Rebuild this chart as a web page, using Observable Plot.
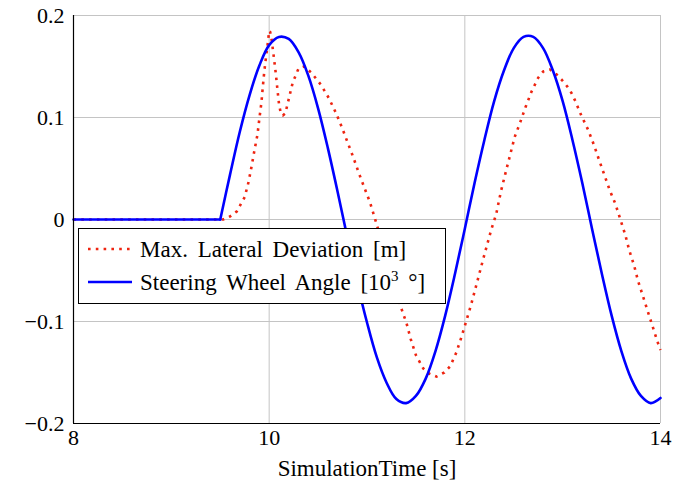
<!DOCTYPE html>
<html>
<head>
<meta charset="utf-8">
<script src="https://cdn.jsdelivr.net/npm/d3@7"></script>
<script src="https://cdn.jsdelivr.net/npm/@observablehq/plot@0.6"></script>
<style>
  html, body { margin: 0; padding: 0; background: #fff; }
</style>
</head>
<body>
<div id="wrap"></div>
<script>
// Simulation time axis
const xDomain = [8, 14];
const yDomain = [-0.2, 0.2];
const xTicks = [8, 10, 12, 14];
const yTicks = [-0.2, -0.1, 0, 0.1, 0.2];
const xLabel = "SimulationTime [s]";
const seriesNames = ["Max. Lateral Deviation [m]", "Steering Wheel Angle [10", "3", " °]"];

// Max. Lateral Deviation [m]
const latT = [8, 9.53, 9.6, 9.67, 9.75, 9.79, 9.82, 9.85, 9.88, 9.9, 9.92, 9.935, 9.95, 9.97, 9.99, 10.0, 10.01,
  10.027, 10.048, 10.068, 10.085, 10.102, 10.12, 10.14, 10.165, 10.2, 10.24, 10.3, 10.36, 10.43, 10.53, 10.61,
  10.68, 10.745, 10.8, 10.86, 10.915, 10.97, 11.03, 11.1, 11.23, 11.354, 11.405, 11.446, 11.5, 11.575, 11.633,
  11.71, 11.79, 11.85, 11.915, 11.966, 12.01, 12.06, 12.11, 12.19, 12.27, 12.32, 12.37, 12.43, 12.47, 12.51,
  12.565, 12.62, 12.68, 12.75, 12.8, 12.87, 12.94, 13.0, 13.05, 13.09, 13.13, 13.19, 13.26, 13.32, 13.37, 13.425,
  13.48, 13.54, 13.59, 13.64, 13.68, 13.73, 13.77, 13.82, 13.87, 13.92, 13.97, 14.0];
const latV = [0, 0, 0.003, 0.008, 0.022, 0.037, 0.052, 0.068, 0.083, 0.099, 0.114, 0.13, 0.145, 0.161, 0.176, 0.185, 0.184,
  0.175, 0.159, 0.143, 0.127, 0.112, 0.104, 0.102, 0.104, 0.118, 0.134, 0.148, 0.15, 0.144, 0.132, 0.119,
  0.105, 0.09, 0.076, 0.061, 0.046, 0.032, 0.017, -0.005, -0.047, -0.088, -0.102, -0.117, -0.133, -0.146, -0.151,
  -0.154, -0.15, -0.144, -0.13, -0.115, -0.101, -0.085, -0.067, -0.038, -0.01, 0.005, 0.028, 0.051, 0.066, 0.081,
  0.095, 0.11, 0.125, 0.139, 0.145, 0.147, 0.142, 0.136, 0.13, 0.124, 0.116, 0.102, 0.088, 0.073, 0.059, 0.044,
  0.029, 0.015, 0.0, -0.015, -0.03, -0.045, -0.06, -0.075, -0.09, -0.105, -0.12, -0.128];

// Steering Wheel Angle [10^3 deg]: flat part, then the sweep
const steerFlatT = [8, 9.5];
const steerFlatV = [0, 0];
const steerT = [9.5, 9.6, 9.7, 9.8, 9.9, 10.0, 10.1, 10.2, 10.3, 10.4, 10.5, 10.6, 10.7, 10.8, 10.9, 11.0,
  11.1, 11.2, 11.3, 11.4, 11.5, 11.6, 11.7, 11.8, 11.9, 12.0, 12.1, 12.2, 12.3, 12.4, 12.5, 12.6, 12.7, 12.8,
  12.9, 13.0, 13.1, 13.2, 13.3, 13.4, 13.5, 13.6, 13.7, 13.8, 13.9, 14.0];
const steerV = [0, 0.044, 0.086, 0.122, 0.151, 0.171, 0.179, 0.177, 0.164, 0.141, 0.109, 0.07, 0.027, -0.018, -0.062, -0.101,
  -0.135, -0.16, -0.176, -0.18, -0.173, -0.156, -0.129, -0.094, -0.053, -0.009, 0.036, 0.078, 0.116, 0.146, 0.168, 0.179, 0.179, 0.168,
  0.146, 0.116, 0.078, 0.036, -0.009, -0.053, -0.094, -0.129, -0.156, -0.173, -0.18, -0.175];

const lat = latT.map((t, i) => ({t, v: latV[i]}));
const steerFlat = steerFlatT.map((t, i) => ({t, v: steerFlatV[i]}));
const steer = steerT.map((t, i) => ({t, v: steerV[i]}));

const RED = "#ee2410";
const BLUE = "#0000ff";
const FONT = "Times";

const chart = Plot.plot({
  width: 690,
  height: 485,
  marginLeft: 73,
  marginRight: 30,
  marginTop: 15,
  marginBottom: 62,
  style: {fontFamily: FONT, fontSize: "22px", color: "#000", background: "#fff"},
  x: {domain: xDomain, label: null},
  y: {domain: yDomain, label: null},
  marks: [
    Plot.gridX(xTicks.slice(1), {stroke: "#c4c4c4", strokeOpacity: 1}),
    Plot.gridY(yTicks.slice(1), {stroke: "#c4c4c4", strokeOpacity: 1}),
    Plot.axisY(yTicks, {tickSize: 0, tickPadding: 9, fontFamily: FONT, tickFormat: d => d === 0 ? "0" : d3.format(".1f")(d).replace("-", "\u2212"), fill: "#000"}),
    Plot.axisX(xTicks, {tickSize: 0, tickPadding: 6, fontFamily: FONT, fill: "#000", label: xLabel, labelAnchor: "center", labelOffset: 52, labelArrow: "none"}),
    Plot.line(lat, {x: "t", y: "v", stroke: RED, strokeWidth: 2.6, strokeDasharray: "2.6,5.2", strokeLinecap: "butt", curve: "linear"}),
    Plot.line(steerFlat, {x: "t", y: "v", stroke: BLUE, strokeWidth: 2.6}),
    Plot.line(steer, {x: "t", y: "v", stroke: BLUE, strokeWidth: 2.6, curve: "catmull-rom"}),
    Plot.ruleX([xDomain[0]], {stroke: "#000", strokeWidth: 1.2}),
    Plot.ruleY([yDomain[0]], {stroke: "#000", strokeWidth: 1.2})
  ]
});

const svg = d3.select(chart);
// slightly larger axis title
svg.selectAll("text").filter(function() { return this.textContent === xLabel; }).attr("font-size", 23);

// legend box drawn inside the chart's SVG
const lg = svg.append("g").attr("transform", "translate(78.5,228.5)").attr("text-anchor", "start").attr("font-family", FONT);
lg.append("rect").attr("width", 367).attr("height", 75).attr("fill", "#fff").attr("stroke", "#000").attr("stroke-width", 1);
const rows = [
  {y: 20.5, stroke: RED, dash: "2.6,5.2"},
  {y: 53.5, stroke: BLUE, dash: null}
];
rows.forEach(r => {
  lg.append("line").attr("x1", 9.5).attr("x2", 53.5).attr("y1", r.y).attr("y2", r.y)
    .attr("stroke", r.stroke).attr("stroke-width", 2.6).attr("stroke-dasharray", r.dash);
});
lg.append("text").attr("x", 61.5).attr("y", rows[0].y).attr("dy", "0.33em").attr("text-anchor", "start")
  .attr("font-family", FONT).attr("font-size", 23).attr("word-spacing", 4).attr("fill", "#000").text(seriesNames[0]);
const t2 = lg.append("text").attr("x", 61.5).attr("y", rows[1].y).attr("dy", "0.33em").attr("text-anchor", "start")
  .attr("font-family", FONT).attr("font-size", 23).attr("word-spacing", 4).attr("fill", "#000");
t2.append("tspan").text(seriesNames[1]);
t2.append("tspan").attr("font-size", 15).attr("dy", -9).text(seriesNames[2]);
t2.append("tspan").attr("dy", 9).text(seriesNames[3]);

// make sure every text in the SVG carries the serif face explicitly
svg.selectAll("text").attr("font-family", FONT);

document.getElementById("wrap").appendChild(chart);
</script>
</body>
</html>
